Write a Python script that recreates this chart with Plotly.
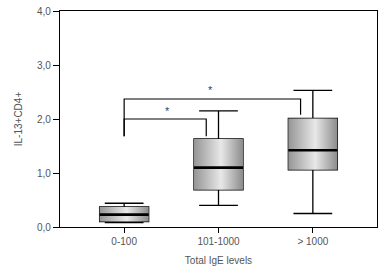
import plotly.graph_objects as go

categories = ["0-100", "101-1000", "> 1000"]
positions = [0, 1, 2]
lower_whisker = [0.08, 0.40, 0.25]
q1_vals = [0.10, 0.69, 1.06]
median_vals = [0.23, 1.10, 1.42]
q3_vals = [0.37, 1.63, 2.01]
upper_whisker = [0.44, 2.15, 2.53]

# significance brackets: (left x, right x, bar height, left foot, right foot)
brackets = [
    (0.0, 0.87, 2.0, 1.68, 1.68),
    (0.0, 1.87, 2.37, 1.68, 2.08),
]
star_positions_x = [0.46, 0.91]
star_positions_y = [2.15, 2.53]

box_w = 0.52
txt = "#555555"
font_family = "Liberation Sans, Arial, sans-serif"

fig = go.Figure()

for p, a, b in zip(positions, q1_vals, q3_vals):
    fig.add_trace(go.Scatter(
        x=[p - box_w / 2, p + box_w / 2, p + box_w / 2, p - box_w / 2, p - box_w / 2],
        y=[a, a, b, b, a],
        mode="lines", fill="toself", line=dict(width=0),
        fillgradient=dict(type="horizontal",
                          colorscale=[[0, "#959595"], [0.55, "#e8e8e8"], [1, "#8c8c8c"]]),
        hoverinfo="skip", showlegend=False))

for p, lw, a, m, b, uw in zip(positions, lower_whisker, q1_vals, median_vals, q3_vals, upper_whisker):
    fig.add_trace(go.Box(
        x=[p], q1=[a], median=[m], q3=[b], lowerfence=[lw], upperfence=[uw],
        width=box_w, whiskerwidth=0.79, fillcolor="rgba(0,0,0,0)",
        line=dict(color="black", width=1.3), showlegend=False, boxpoints=False))
    fig.add_trace(go.Scatter(
        x=[p - box_w / 2, p + box_w / 2], y=[m, m], mode="lines",
        line=dict(color="black", width=2.6), showlegend=False, hoverinfo="skip"))

for xl, xr, h, fl, fr in brackets:
    fig.add_trace(go.Scatter(
        x=[xl, xl, xr, xr], y=[fl, h, h, fr], mode="lines",
        line=dict(color="#000000", width=1.2), showlegend=False, hoverinfo="skip"))

for sx, sy in zip(star_positions_x, star_positions_y):
    fig.add_annotation(x=sx, y=sy, text="*", showarrow=False,
                       font=dict(size=11, color="#444444", family=font_family))

fig.update_layout(
    width=380, height=270,
    margin=dict(l=60, r=3, t=11, b=43, autoexpand=False),
    paper_bgcolor="white", plot_bgcolor="white",
    separators=",.",
    font=dict(family=font_family, size=10, color=txt),
    showlegend=False,
)
fig.update_xaxes(
    range=[-0.68, 2.68], tickvals=positions, ticktext=categories,
    showline=True, linecolor="black", linewidth=1.3, mirror=True,
    ticks="outside", ticklen=5, tickcolor="black", showgrid=False, zeroline=False,
    automargin=False,
    title=dict(text="Total IgE levels", font=dict(size=10, color=txt), standoff=10),
)
fig.update_yaxes(
    range=[0, 4], tickvals=[0, 1, 2, 3, 4], tickformat=".1f",
    showline=True, linecolor="black", linewidth=1.3, mirror=True,
    ticks="outside", ticklen=6, tickcolor="black", showgrid=False, zeroline=False,
    automargin=False, ticklabeloverflow="allow",
    title=dict(text="IL-13+CD4+", font=dict(size=10, color=txt), standoff=12),
)

fig.write_html(
    "out.html",
    config={"displayModeBar": False},
    post_script="document.body.style.margin='0';document.body.style.overflow='hidden';",
)
